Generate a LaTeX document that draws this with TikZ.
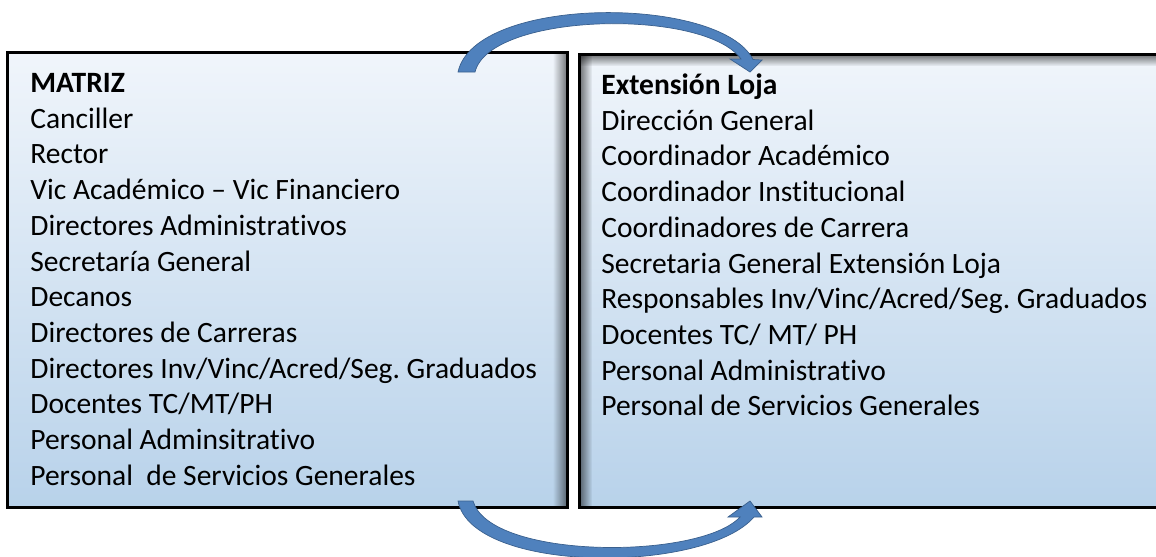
\documentclass[tikz,border=0pt]{standalone}
\usepackage{fontspec}
\setmainfont{Carlito}[Ligatures={NoCommon}]
\usetikzlibrary{positioning,calc,fadings}
\frenchspacing

\definecolor{boxtop}{RGB}{240,245,251}
\definecolor{boxbot}{RGB}{184,210,234}
\definecolor{arrowblue}{RGB}{79,129,189}
\definecolor{arrowedge}{RGB}{58,96,142}

\tikzset{
  panel/.style={draw=black, line width=0.9pt, top color=boxtop, bottom color=boxbot, inner sep=0pt},
  heading/.style={anchor=base west, inner sep=0pt, font=\fontsize{16.8}{20}\selectfont\bfseries},
  entry/.style={anchor=base west, inner sep=0pt, font=\fontsize{16.8}{20}\selectfont},
  bend arrow/.style={fill=arrowblue, draw=arrowedge, line width=0.4pt},
  inner shade/.style={fill=black, opacity=0.55}
}

\begin{document}
\begin{tikzpicture}[x=0.02cm, y=-0.02cm]
\useasboundingbox (0,0) rectangle (1156,556);

% the two boxes
\node[panel, minimum width=11.18cm, minimum height=9.08cm] (matriz) at (287.5,280) {};
\node[panel, minimum width=11.7cm, minimum height=9.04cm] (loja) at (872.5,281) {};

% inner shadows
\fill[inner shade, path fading=west] ([xshift=-0.3cm]matriz.north east) rectangle (matriz.south east);
\fill[inner shade, path fading=south] (loja.north west) rectangle ([yshift=-0.24cm]loja.north east);
\fill[inner shade, path fading=east] (loja.north west) rectangle ([xshift=0.26cm]loja.south west);
\draw[line width=0.9pt] (matriz.north west) rectangle (matriz.south east);
\draw[line width=0.9pt] (loja.north west) rectangle (loja.south east);

% left list
\node[heading] (mtitle) at (30,92.5) {MATRIZ};
\foreach \t [count=\i] in {Canciller, Rector, Vic Académico – Vic Financiero,
  Directores Administrativos, Secretaría General, Decanos, Directores de Carreras,
  Directores Inv/Vinc/Acred/Seg. Graduados, Docentes TC/MT/PH,
  Personal Adminsitrativo, Personal\ \ de Servicios Generales}
  \node[entry] (m\i) at (30,{92.5+35.7*\i}) {\t};

% right list
\node[heading] (ltitle) at (601,94.5) {Extensión Loja};
\foreach \t [count=\i] in {Dirección General, Coordinador Académico,
  Coordinador Institucional, Coordinadores de Carrera,
  Secretaria General Extensión Loja, Responsables Inv/Vinc/Acred/Seg. Graduados,
  Docentes TC/ MT/ PH, Personal Administrativo, Personal de Servicios Generales}
  \node[entry] (l\i) at (601,{94.5+35.7*\i}) {\t};

% curved block arrows
\coordinate (toptail) at (466,72);
\coordinate (toptip) at (750,72);
\coordinate (bottail) at (466,501);
\coordinate (bottip) at (750,501);

\fill[bend arrow] ($(toptail)+(-8,0)$) .. controls (475,-5) and (720,-5) .. (753,59.5)
  -- (762,60) -- (toptip) -- (730,59) -- (741,59)
  .. controls (705,8) and (490,12) .. ($(toptail)+(9,0)$) -- cycle;

\fill[bend arrow] ($(bottail)+(-8,0)$) .. controls (472,574) and (705,574) .. (754,517)
  -- (762,517) -- (bottip) -- (728,517) -- (740,517)
  .. controls (700,560) and (490,560) .. ($(bottail)+(7,0)$) -- cycle;
\end{tikzpicture}
\end{document}
